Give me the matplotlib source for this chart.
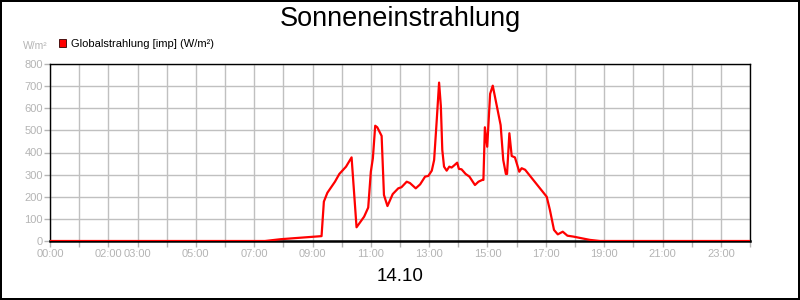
import matplotlib.pyplot as plt
from matplotlib.patches import Patch

plt.rcParams['font.family'] = ['Liberation Sans', 'DejaVu Sans']

# time of day in hours, irradiance in W/m²
hours = [0, 7.37, 7.9, 8.5, 9.31, 9.39, 9.51, 9.77, 9.92, 10.15, 10.34, 10.51,
         10.77, 10.91, 11.0, 11.07, 11.15, 11.22, 11.37, 11.45, 11.57, 11.75,
         11.94, 12.05, 12.23, 12.34, 12.54, 12.69, 12.86, 12.97, 13.09, 13.17,
         13.26, 13.34, 13.40, 13.45, 13.51, 13.60, 13.69, 13.77, 13.86, 13.96,
         14.02, 14.11, 14.25, 14.38, 14.57, 14.69, 14.82, 14.86, 14.91, 14.99,
         15.09, 15.18, 15.45, 15.54, 15.63, 15.67, 15.75, 15.83, 15.94, 16.09,
         16.17, 16.29, 17.03, 17.14, 17.28, 17.41, 17.58, 17.74, 17.94, 18.51,
         18.86, 24]
values = [0, 0, 8, 14, 22, 178, 218, 268, 303, 336, 378, 62,
          110, 151, 313, 374, 521, 514, 475, 208, 158, 212,
          238, 243, 268, 262, 238, 256, 291, 294, 318, 366,
          547, 716, 611, 411, 336, 318, 336, 332, 342, 354,
          326, 324, 303, 291, 253, 268, 276, 276, 514, 426,
          665, 702, 524, 366, 303, 303, 487, 384, 378, 313,
          329, 322, 200, 140, 50, 30, 42, 24, 20, 5,
          0, 0]

tick_hours = list(range(25))
tick_names = {0: '00:00', 2: '02:00', 3: '03:00', 5: '05:00', 7: '07:00',
              9: '09:00', 11: '11:00', 13: '13:00', 15: '15:00', 17: '17:00',
              19: '19:00', 21: '21:00', 23: '23:00'}

grey = '#b4b4b4'

fig = plt.figure(figsize=(8, 3), dpi=100)
fig.patch.set_edgecolor('black')
fig.patch.set_linewidth(1.5)
ax = fig.add_axes([50 / 800, 59 / 300, 700 / 800, 177 / 300])

ax.plot(hours, values, color='red', linewidth=1.6, zorder=3)

ax.set_xlim(0, 24)
ax.set_ylim(0, 800)
ax.set_xticks(tick_hours)
ax.set_xticklabels([tick_names.get(h, '') for h in tick_hours])
ax.set_yticks(range(0, 801, 100))
ax.grid(True, color='#c0c0c0', linewidth=1)
ax.set_axisbelow(True)
ax.tick_params(axis='both', colors=grey, labelsize=8, length=4, width=1)
ax.tick_params(axis='x', pad=2)
ax.tick_params(axis='y', pad=1)
for s in ax.spines.values():
    s.set_color('black')
    s.set_linewidth(1)
ax.spines['bottom'].set_linewidth(1.8)

fig.text(0.5, 0.935, 'Sonneneinstrahlung', ha='center', va='center', fontsize=19.5)
fig.text(0.5, 0.078, '14.10', ha='center', va='center', fontsize=13.5)
fig.text(35 / 800, 1 - 46 / 300, 'W/m²', ha='center', va='center', fontsize=7.5, color=grey)

handle = Patch(facecolor='red', edgecolor='#300000', linewidth=0.6)
fig.legend([handle], ['Globalstrahlung [imp] (W/m²)'], loc='center left',
           bbox_to_anchor=(53 / 800, 1 - 44 / 300), frameon=False, fontsize=8,
           handlelength=0.7, handleheight=0.7, handletextpad=0.4, borderpad=0)

plt.savefig('out.png', dpi=100, edgecolor=fig.get_edgecolor())
